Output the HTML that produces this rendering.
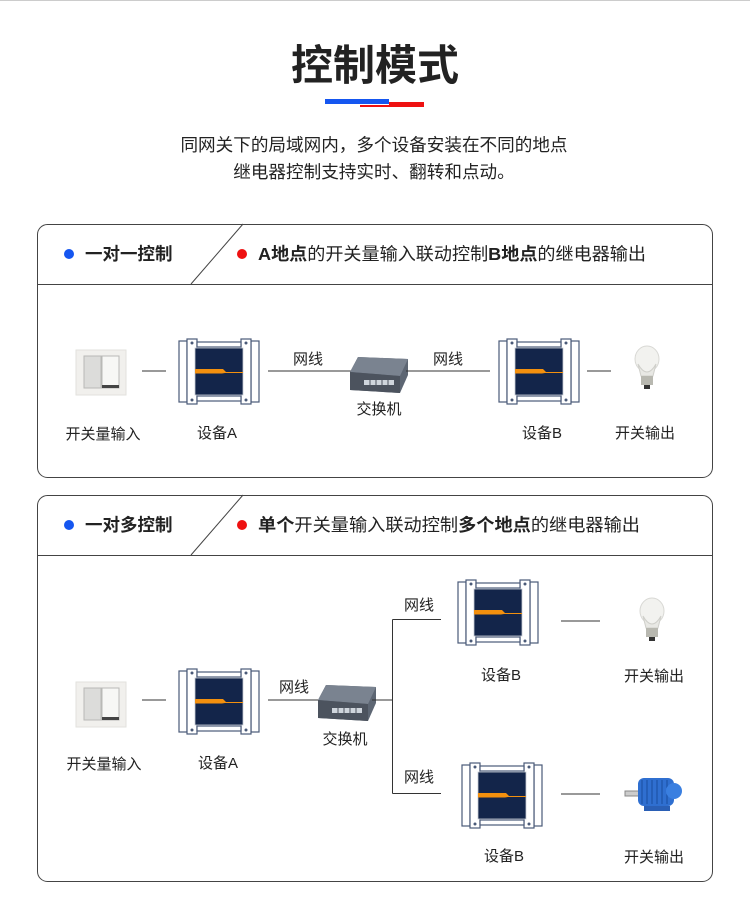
<!DOCTYPE html>
<html><head><meta charset="utf-8"><style>
html,body{margin:0;padding:0;background:#fff}
svg{display:block}
text{font-family:"Liberation Sans","Noto Sans CJK SC",sans-serif;fill:#222}
</style></head><body>
<svg width="750" height="898" viewBox="0 0 750 898" xmlns="http://www.w3.org/2000/svg">
<defs>
<g id="dev">
  <rect x="0" y="2" width="8" height="61" fill="#fff" stroke="#4a5a78" stroke-width="1.2"/>
  <rect x="72" y="2" width="8" height="61" fill="#fff" stroke="#4a5a78" stroke-width="1.2"/>
  <rect x="8" y="0" width="10" height="65" fill="#fff" stroke="#4a5a78" stroke-width="1.2"/>
  <rect x="62" y="0" width="10" height="65" fill="#fff" stroke="#4a5a78" stroke-width="1.2"/>
  <rect x="18" y="3" width="44" height="5" fill="#fff" stroke="#4a5a78" stroke-width="1.2"/>
  <rect x="18" y="57" width="44" height="5" fill="#fff" stroke="#4a5a78" stroke-width="1.2"/>
  <circle cx="13" cy="4" r="1.5" fill="#4a5a78"/><circle cx="67" cy="4" r="1.5" fill="#4a5a78"/>
  <circle cx="13" cy="61" r="1.5" fill="#4a5a78"/><circle cx="67" cy="61" r="1.5" fill="#4a5a78"/>
  <rect x="16" y="9" width="48" height="47" fill="#13254a" stroke="#c8ccd4" stroke-width="0.8"/>
  <path d="M16 30 H44 L47 33 H64 V34 H46 L43 34.5 H16 Z" fill="#f3900e"/>
</g>
<g id="sw">
  <polygon points="8,0 58,2 58,18 50,36 0,33 0,15" fill="#5d6673"/>
  <polygon points="8,0 58,2 50,19 0,15" fill="#7a8390"/>
  <polygon points="0,15 50,19 50,36 0,33" fill="#4c535e"/>
  <rect x="14" y="23" width="30" height="5" fill="#cfd5dc"/>
  <line x1="20" y1="23" x2="20" y2="28" stroke="#4c535e"/><line x1="26" y1="23" x2="26" y2="28" stroke="#4c535e"/><line x1="32" y1="23" x2="32" y2="28" stroke="#4c535e"/><line x1="38" y1="23" x2="38" y2="28" stroke="#4c535e"/>
</g>
<g id="swi">
  <rect x="0" y="0" width="50" height="45" fill="#f1f0ed" stroke="#e2e1dd"/>
  <rect x="8" y="6" width="17" height="32" fill="#dcdcda" stroke="#b9b9b6"/>
  <rect x="26" y="6" width="17" height="32" fill="#f7f7f5" stroke="#b9b9b6"/>
  <rect x="26" y="35" width="17" height="3" fill="#444"/>
</g>
<g id="bulb">
  <ellipse cx="12" cy="13" rx="12" ry="13" fill="#f2f2ef" stroke="#d8d8d4"/>
  <path d="M3 18 Q12 34 21 18 L18 30 H6 Z" fill="#e8e8e4" stroke="#cfcfca"/>
  <rect x="6" y="30" width="12" height="9" fill="#b8b8b0"/>
  <rect x="9" y="39" width="6" height="4" fill="#333"/>
</g>
</defs>

<line x1="0" y1="0.5" x2="750" y2="0.5" stroke="#ccc"/>
<text x="375" y="80" text-anchor="middle" font-size="42" font-weight="bold" fill="#333">控制模式</text>
<rect x="325" y="99" width="64" height="5" fill="#1556f0"/>
<rect x="360" y="105" width="29" height="2" fill="#ee1111"/>
<rect x="389" y="102" width="35" height="5" fill="#ee1111"/>
<text x="374" y="151" text-anchor="middle" font-size="17.6">同网关下的局域网内，多个设备安装在不同的地点</text>
<text x="374" y="178" text-anchor="middle" font-size="17.6">继电器控制支持实时、翻转和点动。</text>

<!-- section 1 -->
<rect x="37.5" y="224.5" width="675" height="253" rx="10" fill="#fff" stroke="#444"/>
<path d="M37.5 284.5 H712.5" stroke="#444"/>
<line x1="243" y1="224" x2="191" y2="284" stroke="#444"/>
<circle cx="69" cy="254" r="5" fill="#1556f0"/>
<text x="85" y="260" font-size="17.5" font-weight="bold">一对一控制</text>
<circle cx="242" cy="254" r="5" fill="#ee1111"/>
<text x="258" y="260" font-size="17.5" textLength="388" lengthAdjust="spacingAndGlyphs"><tspan font-weight="bold">A地点</tspan>的开关量输入联动控制<tspan font-weight="bold">B地点</tspan>的继电器输出</text>

<use href="#swi" x="76" y="350"/>
<line x1="142" y1="371" x2="166" y2="371" stroke="#333"/>
<use href="#dev" x="179" y="339"/>
<line x1="268" y1="371" x2="352" y2="371" stroke="#333"/>
<text x="293" y="364" font-size="15">网线</text>
<use href="#sw" x="350" y="357"/>
<text x="379" y="414" text-anchor="middle" font-size="15">交换机</text>
<line x1="406" y1="371" x2="490" y2="371" stroke="#333"/>
<text x="433" y="364" font-size="15">网线</text>
<use href="#dev" x="499" y="339"/>
<line x1="587" y1="371" x2="611" y2="371" stroke="#333"/>
<use href="#bulb" x="635" y="346"/>
<text x="103" y="439" text-anchor="middle" font-size="15">开关量输入</text>
<text x="217" y="438" text-anchor="middle" font-size="15">设备A</text>
<text x="542" y="438" text-anchor="middle" font-size="15">设备B</text>
<text x="645" y="438" text-anchor="middle" font-size="15">开关输出</text>

<!-- section 2 -->
<rect x="37.5" y="495.5" width="675" height="386" rx="10" fill="#fff" stroke="#444"/>
<path d="M37.5 555.5 H712.5" stroke="#444"/>
<line x1="243" y1="495" x2="191" y2="555" stroke="#444"/>
<circle cx="69" cy="525" r="5" fill="#1556f0"/>
<text x="85" y="531" font-size="17.5" font-weight="bold">一对多控制</text>
<circle cx="242" cy="525" r="5" fill="#ee1111"/>
<text x="258" y="531" font-size="17.5" textLength="382" lengthAdjust="spacingAndGlyphs"><tspan font-weight="bold">单个</tspan>开关量输入联动控制<tspan font-weight="bold">多个地点</tspan>的继电器输出</text>

<use href="#swi" x="76" y="682"/>
<line x1="142" y1="700" x2="166" y2="700" stroke="#333"/>
<use href="#dev" x="179" y="669"/>
<line x1="268" y1="700" x2="318" y2="700" stroke="#333"/>
<text x="279" y="692" font-size="15">网线</text>
<use href="#sw" x="318" y="685"/>
<text x="345" y="744" text-anchor="middle" font-size="15">交换机</text>
<path d="M372 700 H392.5 M392.5 619.5 V793.5 M392.5 619.5 H441 M392.5 793.5 H441" stroke="#333" fill="none"/>
<text x="404" y="610" font-size="15">网线</text>
<text x="404" y="782" font-size="15">网线</text>
<use href="#dev" x="458" y="580"/>
<use href="#dev" x="462" y="763"/>
<line x1="561" y1="621" x2="600" y2="621" stroke="#333"/>
<line x1="561" y1="794" x2="600" y2="794" stroke="#333"/>
<use href="#bulb" x="640" y="598"/>
<g>
  <rect x="625" y="791" width="14" height="5" fill="#ccc" stroke="#888"/>
  <rect x="638" y="778" width="36" height="28" rx="6" fill="#2f6fd0"/>
  <path d="M642 780 V804 M647 780 V804 M652 780 V804 M657 780 V804 M662 780 V804 M667 780 V804" stroke="#1a4d9e"/>
  <rect x="644" y="806" width="26" height="5" fill="#2a5fb5"/>
  <circle cx="674" cy="791" r="8" fill="#3a7fe0"/>
</g>
<text x="104" y="769" text-anchor="middle" font-size="15">开关量输入</text>
<text x="218" y="768" text-anchor="middle" font-size="15">设备A</text>
<text x="501" y="680" text-anchor="middle" font-size="15">设备B</text>
<text x="654" y="681" text-anchor="middle" font-size="15">开关输出</text>
<text x="504" y="861" text-anchor="middle" font-size="15">设备B</text>
<text x="654" y="862" text-anchor="middle" font-size="15">开关输出</text>
</svg>
</body></html>
